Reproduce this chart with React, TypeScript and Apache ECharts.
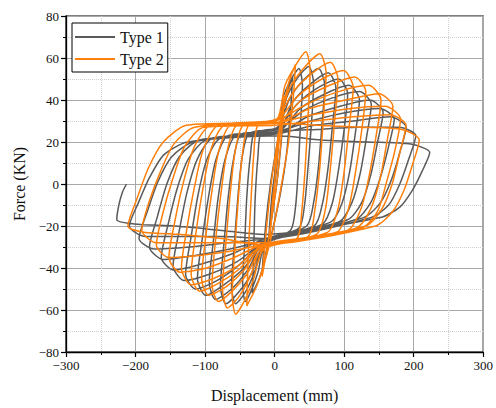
import React, { useEffect, useRef } from "react";
import * as echarts from "echarts";

const xMin = -300;
const xMax = 300;
const xStep = 100;
const yMin = -80;
const yMax = 80;
const yStep = 20;

const seriesNames = ["Type 1", "Type 2"];

// Type 1 (grey) hysteresis, cycle by cycle, [displacement mm, force kN]
const type1Cycles: number[][][] = [
  [[0, 0]],
  [[2, 8], [6, 22], [3, 8], [-3, -8], [-8, -24]],
  [[-4, -6], [3, 12], [8, 26], [14, 40], [10, 22], [3, 0], [-5, -18], [-12, -32], [-18, -42]],
  [[-13, -20], [-6, 0], [3, 18], [10, 32], [18, 44], [26, 51], [23, 36], [17, 14], [8, -5], [-3, -22], [-12, -34], [-22, -45], [-32, -52]],
  [[-30, -30], [-28, -7], [-24, 13], [-19, 25], [6, 27], [12, 41], [24, 50], [35, 55], [40, 47], [37, 28], [34, 7], [30, -11], [23, -22], [-14, -29], [-24, -42], [-34, -51], [-42, -56], [-46, -48]],
  [[-43, -28], [-40, -6], [-35, 13], [-28, 25], [5, 26], [17, 41], [34, 51], [49, 56], [56, 48], [53, 29], [48, 8], [43, -10], [35, -21], [-15, -28], [-29, -42], [-43, -52], [-56, -57], [-62, -49]],
  [[-58, -29], [-53, -7], [-47, 12], [-37, 24], [4, 27], [22, 41], [43, 50], [63, 55], [72, 47], [68, 28], [63, 8], [56, -9], [46, -20], [-16, -29], [-34, -43], [-53, -52], [-70, -57], [-78, -49]],
  [[-73, -29], [-67, -7], [-59, 12], [-47, 24], [5, 25], [26, 39], [53, 48], [77, 53], [88, 46], [83, 27], [77, 8], [69, -9], [57, -20], [-14, -27], [-39, -41], [-62, -50], [-85, -55], [-94, -47]],
  [[-88, -27], [-81, -6], [-71, 12], [-56, 23], [3, 26], [32, 38], [63, 46], [92, 50], [105, 43], [100, 26], [92, 7], [83, -9], [69, -19], [-15, -28], [-44, -40], [-73, -48], [-99, -53], [-111, -45]],
  [[-104, -26], [-95, -6], [-84, 12], [-67, 23], [6, 25], [37, 36], [73, 43], [107, 47], [122, 40], [116, 24], [108, 6], [97, -9], [81, -18], [-13, -27], [-49, -38], [-83, -46], [-114, -50], [-128, -43]],
  [[-120, -25], [-110, -5], [-97, 12], [-77, 22], [4, 26], [42, 35], [83, 41], [122, 44], [139, 38], [132, 22], [123, 5], [111, -9], [93, -18], [-16, -28], [-54, -37], [-94, -43], [-130, -46], [-146, -39]],
  [[-137, -22], [-126, -4], [-111, 12], [-88, 22], [5, 24], [47, 32], [94, 37], [137, 40], [156, 34], [148, 20], [138, 4], [125, -9], [105, -17], [-14, -26], [-59, -33], [-104, -38], [-145, -41], [-163, -35]],
  [[-153, -19], [-140, -2], [-124, 12], [-98, 21], [3, 25], [52, 30], [103, 34], [151, 36], [172, 31], [164, 18], [152, 3], [138, -9], [116, -17], [-15, -27], [-64, -31], [-114, -34], [-160, -36], [-180, -30]],
  [[-169, -16], [-155, 0], [-137, 13], [-108, 21], [6, 24], [57, 28], [113, 30], [166, 32], [189, 27], [180, 15], [168, 2], [152, -9], [128, -16], [-13, -26], [-69, -28], [-123, -30], [-173, -31], [-195, -26]],
  [[-183, -13], [-168, 1], [-148, 13], [-117, 20], [4, 25], [61, 26], [122, 27], [179, 27], [203, 23], [193, 12], [180, 0], [164, -10], [138, -16], [-14, -26], [-73, -25], [-131, -25], [-186, -25], [-209, -20]],
  [[-196, -9], [-180, 3], [-159, 14], [-125, 20], [5, 23], [67, 21], [134, 20], [196, 19], [223, 15], [212, 6], [198, -3], [180, -11], [152, -16], [-15, -24], [-79, -22], [-142, -20], [-202, -19], [-227, -17]],
  [[-224, -10], [-219, -4], [-213, 0]],
];

// Type 2 (orange) hysteresis, cycle by cycle, [displacement mm, force kN]
const type2Cycles: number[][][] = [
  [[0, 0]],
  [[2, 10], [5, 24], [2, 8], [-2, -8], [-7, -26]],
  [[-3, -8], [3, 10], [8, 26], [14, 42], [10, 24], [3, 0], [-5, -18], [-12, -33], [-18, -44]],
  [[-12, -22], [-5, 0], [3, 18], [10, 32], [20, 48], [30, 57], [27, 42], [20, 20], [10, 0], [0, -18], [-10, -32], [-25, -48], [-40, -58]],
  [[-38, -34], [-34, -8], [-30, 14], [-24, 28], [4, 31], [15, 47], [31, 57], [45, 63], [51, 54], [48, 32], [44, 8], [39, -13], [32, -26], [-16, -31], [-31, -46], [-44, -56], [-56, -62], [-61, -53]],
  [[-57, -30], [-52, -6], [-46, 15], [-37, 28], [3, 30], [22, 46], [44, 56], [65, 62], [74, 53], [70, 31], [65, 8], [58, -12], [48, -25], [-17, -30], [-35, -44], [-52, -54], [-68, -59], [-75, -50]],
  [[-70, -28], [-64, -5], [-57, 15], [-45, 28], [3, 31], [27, 44], [55, 53], [80, 58], [91, 50], [86, 29], [80, 7], [73, -12], [60, -24], [-18, -31], [-40, -43], [-61, -51], [-81, -56], [-90, -48]],
  [[-85, -27], [-77, -4], [-68, 16], [-54, 28], [2, 30], [34, 42], [68, 50], [99, 54], [113, 46], [107, 27], [100, 6], [91, -12], [76, -23], [-19, -30], [-44, -41], [-70, -49], [-95, -53], [-105, -45]],
  [[-99, -25], [-90, -3], [-80, 16], [-63, 28], [3, 29], [39, 40], [79, 47], [115, 51], [131, 44], [125, 25], [116, 5], [106, -12], [89, -23], [-18, -29], [-49, -40], [-79, -47], [-108, -51], [-120, -43]],
  [[-113, -23], [-103, -2], [-91, 17], [-72, 28], [1, 30], [46, 38], [92, 44], [135, 47], [153, 40], [146, 23], [136, 4], [124, -12], [105, -22], [-20, -30], [-53, -39], [-88, -45], [-120, -48], [-134, -40]],
  [[-126, -21], [-115, -1], [-102, 17], [-80, 28], [2, 29], [51, 36], [102, 40], [150, 43], [170, 37], [162, 21], [152, 3], [138, -12], [117, -21], [-19, -29], [-58, -35], [-98, -40], [-136, -42], [-152, -35]],
  [[-143, -17], [-131, 1], [-115, 18], [-91, 28], [0, 29], [54, 33], [109, 36], [159, 37], [181, 31], [173, 16], [161, 1], [148, -13], [125, -21], [-20, -29], [-64, -32], [-109, -34], [-152, -35], [-170, -29]],
  [[-160, -13], [-146, 3], [-129, 18], [-102, 27], [1, 28], [57, 30], [113, 32], [166, 33], [189, 28], [180, 15], [169, 0], [154, -12], [131, -20], [-21, -28], [-70, -28], [-122, -28], [-170, -28], [-191, -22]],
  [[-180, -8], [-164, 6], [-145, 19], [-115, 27], [0, 29], [62, 28], [125, 27], [183, 26], [208, 21], [198, 9], [186, -3], [170, -13], [145, -20], [-20, -29], [-76, -26], [-134, -24], [-188, -23], [-211, -20]],
  [[-198, -7], [-181, 8], [-160, 20], [-127, 28], [-60, 29], [0, 30]],
];

const colors = ["#5a5a5a", "#ff7f0a"];

const FONT = "Liberation Serif, Times New Roman, serif";

const fmt = (v: number) => String(v).replace("-", "\u2212");

export default function App() {
  const ref = useRef<HTMLDivElement>(null);
  useEffect(() => {
    if (!ref.current) return;
    const chart = echarts.init(ref.current, undefined, { renderer: "svg" });
    const axisCommon = {
      axisLine: { show: true, onZero: false, lineStyle: { color: "#000", width: 1.3 } },
      axisTick: { show: true, inside: false, length: 5, lineStyle: { color: "#000", width: 1.2 } },
      minorTick: { show: true, splitNumber: 2, length: 3, lineStyle: { color: "#000", width: 1 } },
      splitLine: { show: true, lineStyle: { color: "#a8a8a8", width: 1 } },
      minorSplitLine: { show: true, lineStyle: { color: "#cfcfcf", width: 1, type: [1, 1] } },
      axisLabel: { color: "#111", fontFamily: FONT, fontSize: 13, formatter: fmt, margin: 7 },
      nameLocation: "middle" as const,
      nameTextStyle: { color: "#111", fontFamily: FONT, fontSize: 16 },
    };
    chart.setOption({
      animation: false,
      color: colors,
      textStyle: { fontFamily: FONT },
      grid: {
        left: 66,
        right: 10,
        top: 16,
        bottom: 53,
        show: true,
        borderColor: "#000",
        borderWidth: 1.2,
        backgroundColor: "transparent",
      },
      legend: {
        show: true,
        orient: "vertical",
        left: 72,
        top: 23,
        icon: "rect",
        itemWidth: 40,
        itemHeight: 2,
        itemGap: 6,
        padding: [6, 4, 5, 3],
        borderColor: "#000",
        borderWidth: 1,
        backgroundColor: "#fff",
        textStyle: { color: "#111", fontFamily: FONT, fontSize: 16 },
        data: seriesNames,
      },
      xAxis: {
        type: "value",
        min: xMin,
        max: xMax,
        interval: xStep,
        name: "Displacement (mm)",
        nameGap: 35,
        ...axisCommon,
      },
      yAxis: {
        type: "value",
        min: yMin,
        max: yMax,
        interval: yStep,
        name: "Force (KN)",
        nameGap: 37,
        ...axisCommon,
      },
      series: [
        {
          name: seriesNames[0],
          type: "line",
          data: type1Cycles.flat(),
          showSymbol: false,
          symbol: "none",
          smooth: 0.25,
          lineStyle: { color: colors[0], width: 1.5 },
          itemStyle: { color: colors[0] },
          z: 2,
        },
        {
          name: seriesNames[1],
          type: "line",
          data: type2Cycles.flat(),
          showSymbol: false,
          symbol: "none",
          smooth: 0.25,
          lineStyle: { color: colors[1], width: 1.5 },
          itemStyle: { color: colors[1] },
          z: 3,
        },
      ],
    });
    return () => chart.dispose();
  }, []);
  return <div ref={ref} style={{ width: 496, height: 408, position: "absolute", left: 0, top: 0 }} />;
}
